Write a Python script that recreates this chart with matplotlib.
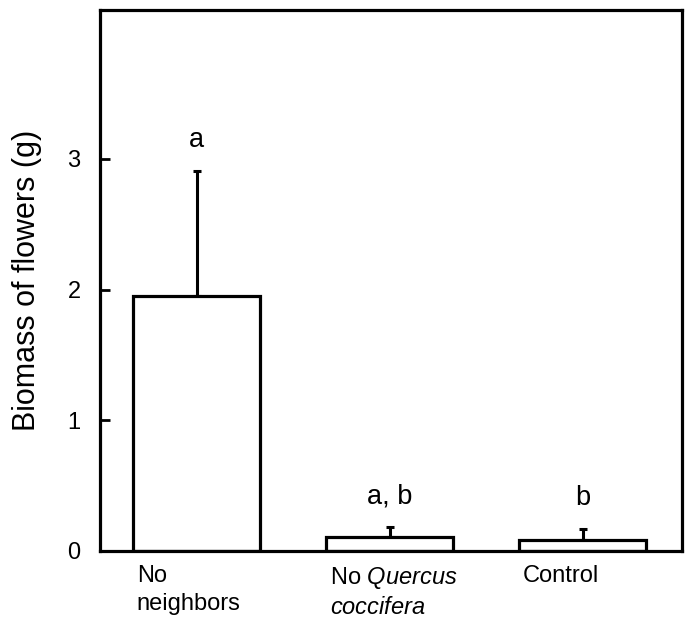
import matplotlib.pyplot as plt
import numpy as np

plt.rcParams['font.family'] = ['Liberation Sans', 'DejaVu Sans']
plt.rcParams['mathtext.fontset'] = 'custom'
plt.rcParams['mathtext.rm'] = 'Liberation Sans'
plt.rcParams['mathtext.it'] = 'Liberation Sans:italic'

treatments = ['No\nneighbors', 'No $\\it{Quercus}$\n$\\it{coccifera}$', 'Control']
biomass = [1.95, 0.11, 0.085]
err_upper = [0.96, 0.07, 0.085]
letters = ['a', 'a, b', 'b']

fig = plt.figure(figsize=(6.91, 6.24), dpi=100)
ax = fig.add_axes([0.1447, 0.117, 0.8423, 0.867])

x = np.arange(len(biomass))
ax.bar(x, biomass, width=0.66, color='white', edgecolor='black', linewidth=2.3, zorder=2)
ax.errorbar(x, biomass, yerr=[np.zeros(len(biomass)), err_upper], fmt='none',
            ecolor='black', elinewidth=2.2, capsize=3, capthick=2.2, zorder=1)

for xi, b, e, lab in zip(x, biomass, err_upper, letters):
    ax.annotate(lab, (xi, b + e), xytext=(0, 17), textcoords='offset points',
                ha='center', va='baseline', fontsize=19.5)

# category labels, left aligned under each bar
for xi, lab in zip(x, treatments):
    ax.text(xi - 0.31, -0.11, lab, ha='left', va='top', fontsize=17, linespacing=1.35)

ax.set_xlim(-0.5, 2.515)
ax.set_ylim(0, 4.14)
ax.set_xticks([])
ax.set_yticks([0, 1, 2, 3])
ax.tick_params(axis='y', direction='in', length=7, width=2, labelsize=17, pad=14)
for s in ax.spines.values():
    s.set_linewidth(2.3)
ax.set_ylabel('Biomass of flowers (g)', fontsize=22, labelpad=18)

fig.savefig('out.png', dpi=100)
